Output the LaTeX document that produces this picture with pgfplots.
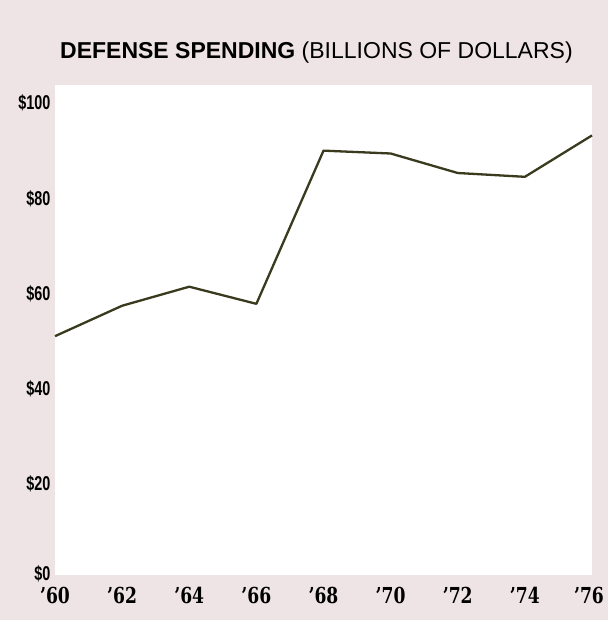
\documentclass[border=0pt]{standalone}
\usepackage{pgfplots}
\pgfplotsset{compat=1.18}
\usepackage{fontspec}
\setmainfont{Liberation Sans}
\newfontfamily\tickfont[FakeStretch=0.78]{DejaVu Serif}
\newfontfamily\yfont[FakeStretch=0.72]{Liberation Sans}
\definecolor{bg}{HTML}{EEE3E5}
\definecolor{line}{HTML}{3A3A1E}
\begin{document}
\begin{tikzpicture}
\fill[bg] (-55pt,-45pt) rectangle (553pt,575pt);
\node[anchor=base west, font=\fontsize{23}{23}\selectfont, inner sep=0pt] at (5pt,516pt) {\textbf{DEFENSE SPENDING} (BILLIONS OF DOLLARS)};
\begin{axis}[
  at={(0pt,0pt)}, anchor=origin,
  scale only axis, width=537pt, height=490pt,
  xmin=1960, xmax=1976, ymin=0, ymax=103,
  axis line style={draw=none},
  axis background/.style={fill=white},
  major tick length=0pt,
  xtick={1960,1962,...,1976},
  xticklabels={’60,’62,’64,’66,’68,’70,’72,’74,\hspace*{-6pt}’76},
  ytick={0,20,40,60,80,100},
  yticklabels={\raisebox{11pt}{\$0},\$20,\$40,\$60,\$80,\$100},
  xticklabel style={font=\tickfont\bfseries\fontsize{22}{22}\selectfont, yshift=-9pt},
  yticklabel style={font=\yfont\bfseries\fontsize{20}{20}\selectfont, xshift=-1pt, yshift=-4pt},
  clip=false,
]
\addplot[line, line width=2.3pt, line join=round] coordinates {
 (1960,50.2) (1962,56.6) (1964,60.6) (1966,57.0) (1968,89.2)
 (1970,88.6) (1972,84.5) (1974,83.7) (1976,92.4)
};
\end{axis}
\end{tikzpicture}
\end{document}
